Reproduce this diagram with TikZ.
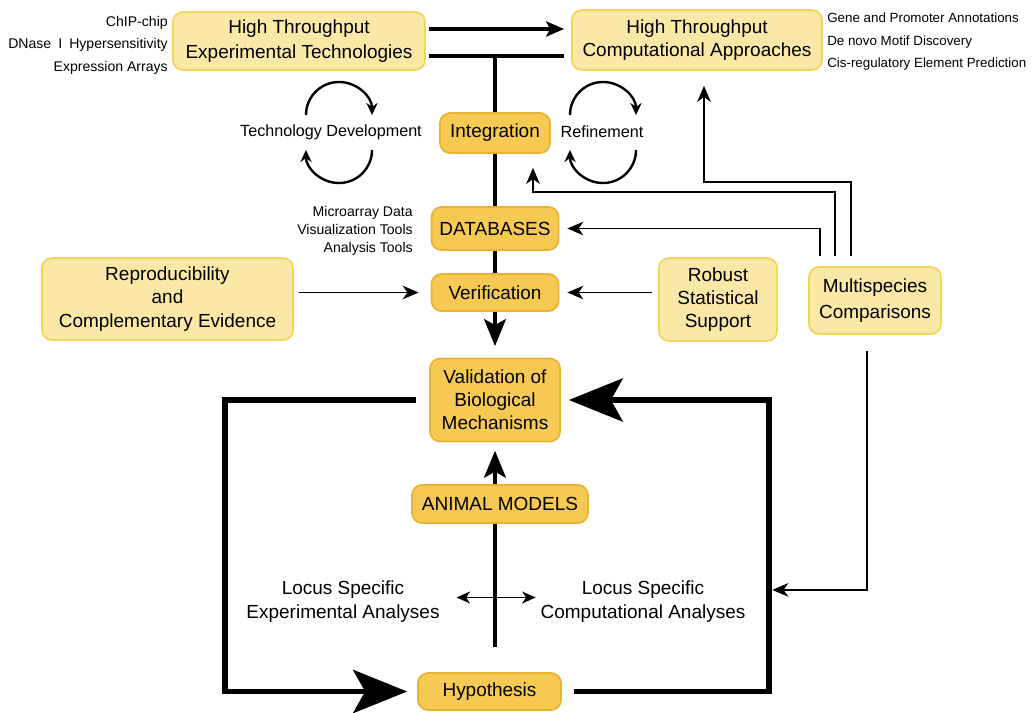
\documentclass[tikz,border=0pt]{standalone}
\usepackage{fontspec}
\setmainfont{Liberation Sans}
\usetikzlibrary{arrows.meta}
\definecolor{litefill}{RGB}{249,232,166}
\definecolor{liteedge}{RGB}{242,212,90}
\definecolor{darkfill}{RGB}{245,201,82}
\definecolor{darkedge}{RGB}{232,178,52}
\begin{document}
\begin{tikzpicture}
    [
    x=0.025cm,y=0.025cm,
    box/.style={rectangle,rounded corners=2.5mm,line width=1.2pt,align=center,inner sep=1pt,font=\fontsize{13.5}{16.5}\selectfont},
    litebox/.style={box,draw=liteedge,fill=litefill},
    darkbox/.style={box,draw=darkedge,fill=darkfill},
    note/.style={inner sep=0pt,font=\fontsize{10}{16}\selectfont},
    cyclabel/.style={font=\fontsize{11.5}{14}\selectfont},
    locus/.style={align=center,font=\fontsize{13.5}{16.5}\selectfont},
    mainline/.style={line width=2.2pt},
    mainarrow/.style={mainline,-{Stealth[length=6.75mm,width=5.5mm,inset=1.5mm]}},
    toparrow/.style={mainline,-{Stealth[length=4.5mm,width=3.8mm,inset=1mm]}},
    looparrow/.style={line width=3.6pt,-{Stealth[length=13.5mm,width=10.8mm,inset=3mm]}},
    thinarrow/.style={line width=1.2pt,-{Stealth[length=4mm,width=3.4mm,inset=1.2mm]}},
    dblarrow/.style={line width=1.1pt,{Stealth[length=3.4mm,width=3mm,inset=1mm]}-{Stealth[length=3.4mm,width=3mm,inset=1mm]}},
    cyclearrow/.style={line width=1.7pt,-{Stealth[length=3mm,width=2.8mm]}}
    ]
    \useasboundingbox (0,0) rectangle (1035,-712);
    % boxes
    \node (hte) at (299,-41) [litebox,minimum width=6.3cm,minimum height=1.45cm,font=\fontsize{13.5}{17.8}\selectfont] {High Throughput\\Experimental Technologies};
    \node (htc) at (697,-40) [litebox,minimum width=6.25cm,minimum height=1.5cm] {High Throughput\\Computational Approaches};
    \node (integ) at (495,-133) [darkbox,minimum width=2.75cm,minimum height=1cm] {Integration};
    \node (db) at (495,-228.5) [darkbox,minimum width=3.175cm,minimum height=1.075cm] {DATABASES};
    \node (verif) at (495,-292.5) [darkbox,minimum width=3.175cm,minimum height=0.925cm] {Verification};
    \node (valid) at (495,-400) [darkbox,minimum width=3.25cm,minimum height=2.075cm] {Validation of\\Biological\\Mechanisms};
    \node (animal) at (500,-504) [darkbox,minimum width=4.4cm,minimum height=0.95cm] {ANIMAL MODELS};
    \node (hypo) at (489.5,-691.5) [darkbox,minimum width=3.575cm,minimum height=0.925cm] {Hypothesis};
    \node (repro) at (167.5,-299) [litebox,minimum width=6.275cm,minimum height=2.05cm] {Reproducibility\\and\\Complementary Evidence};
    \node (robust) at (718,-299.5) [litebox,minimum width=2.95cm,minimum height=2.075cm] {Robust\\Statistical\\Support};
    \node (multi) at (875,-300.5) [litebox,minimum width=3.3cm,minimum height=1.675cm,font=\fontsize{13.5}{19}\selectfont] {Multispecies\\Comparisons};
    % side notes
    \node (techlist) at (168,-45) [note,anchor=east,align=right] {ChIP-chip\\DNase\enspace I\enspace Hypersensitivity\\Expression Arrays};
    \node (complist) at (827,-42) [note,anchor=west,align=left,font=\fontsize{9.5}{16}\selectfont] {Gene and Promoter Annotations\\De novo Motif Discovery\\Cis-regulatory Element Prediction};
    \node (dblist) at (413,-231) [note,anchor=east,align=right,font=\fontsize{10}{13}\selectfont] {Microarray Data\\Visualization Tools\\Analysis Tools};
    \node (techdev) at (331,-132) [cyclabel] {Technology Development};
    \node (refine) at (602,-132) [cyclabel] {Refinement};
    \node (locexp) at (343,-601.5) [locus] {Locus Specific\\Experimental Analyses};
    \node (loccomp) at (643,-601.5) [locus] {Locus Specific\\Computational Analyses};
    \coordinate (split) at (495,-56);
    \coordinate (stem) at (495,-647);
    \coordinate (cornerl) at (225,-400);
    \coordinate (cornerr) at (769,-400);
    % main flow
    \draw [toparrow,shorten <=0.075cm,shorten >=0.175cm] ([yshift=0.3cm]hte.east) -- ([yshift=0.3cm]hte.east -| htc.west);
    \draw [mainline,shorten <=0.075cm,shorten >=0.175cm] ([yshift=-0.375cm]hte.east) -- ([yshift=-0.375cm]hte.east -| htc.west);
    \draw [mainline] (split) -- (integ);
    \draw [mainline] (integ) -- (db);
    \draw [mainline] (db) -- (verif);
    \draw [mainarrow,shorten >=0.29cm] (verif) -- (valid);
    \draw [mainarrow,shorten >=0.21cm] (animal.north -| stem) -- (valid.south -| stem);
    \draw [mainline] (animal.south -| stem) -- (stem);
    \draw [looparrow,shorten <=0.325cm,shorten >=0.25cm] (valid.west) -- (cornerl) |- (hypo.west);
    \draw [looparrow,shorten <=0.3cm,shorten >=0.2cm] (hypo.east) -| (cornerr) -- (valid.east);
    \draw [dblarrow,shorten <=0.3cm] ([yshift=0.1cm]locexp.east) -- ([yshift=0.1cm]loccomp.west);
    % support arrows
    \draw [thinarrow,shorten <=0.125cm,shorten >=0.3cm] (repro.east |- verif.west) -- (verif.west);
    \draw [thinarrow,shorten <=0.15cm,shorten >=0.2cm] (robust.west |- verif.east) -- (verif.east);
    \draw [thinarrow,shorten <=0.25cm,shorten >=0.2cm] ([xshift=-1.375cm]multi.north) |- (db.east);
    \draw [thinarrow,shorten <=0.25cm,shorten >=0.35cm] ([xshift=-1cm]multi.north) -- ++(0,74) -| ([xshift=0.95cm]integ.south);
    \draw [thinarrow,shorten <=0.25cm,shorten >=0.375cm] ([xshift=-0.6cm]multi.north) -- ++(0,84) -| ([xshift=0.175cm]htc.south);
    \draw [thinarrow,shorten <=0.4cm,shorten >=0.55cm] ([xshift=-0.2cm]multi.south) |- ([yshift=0.29cm]loccomp.east);
    % cycles
    \draw [cyclearrow] (306,-115) arc[start angle=180,end angle=0,radius=0.825cm];
    \draw [cyclearrow] (372,-150) arc[start angle=0,end angle=-180,radius=0.825cm];
    \draw [cyclearrow] (570,-115) arc[start angle=180,end angle=0,radius=0.825cm];
    \draw [cyclearrow] (636,-150) arc[start angle=0,end angle=-180,radius=0.825cm];
  \end{tikzpicture}
\end{document}
